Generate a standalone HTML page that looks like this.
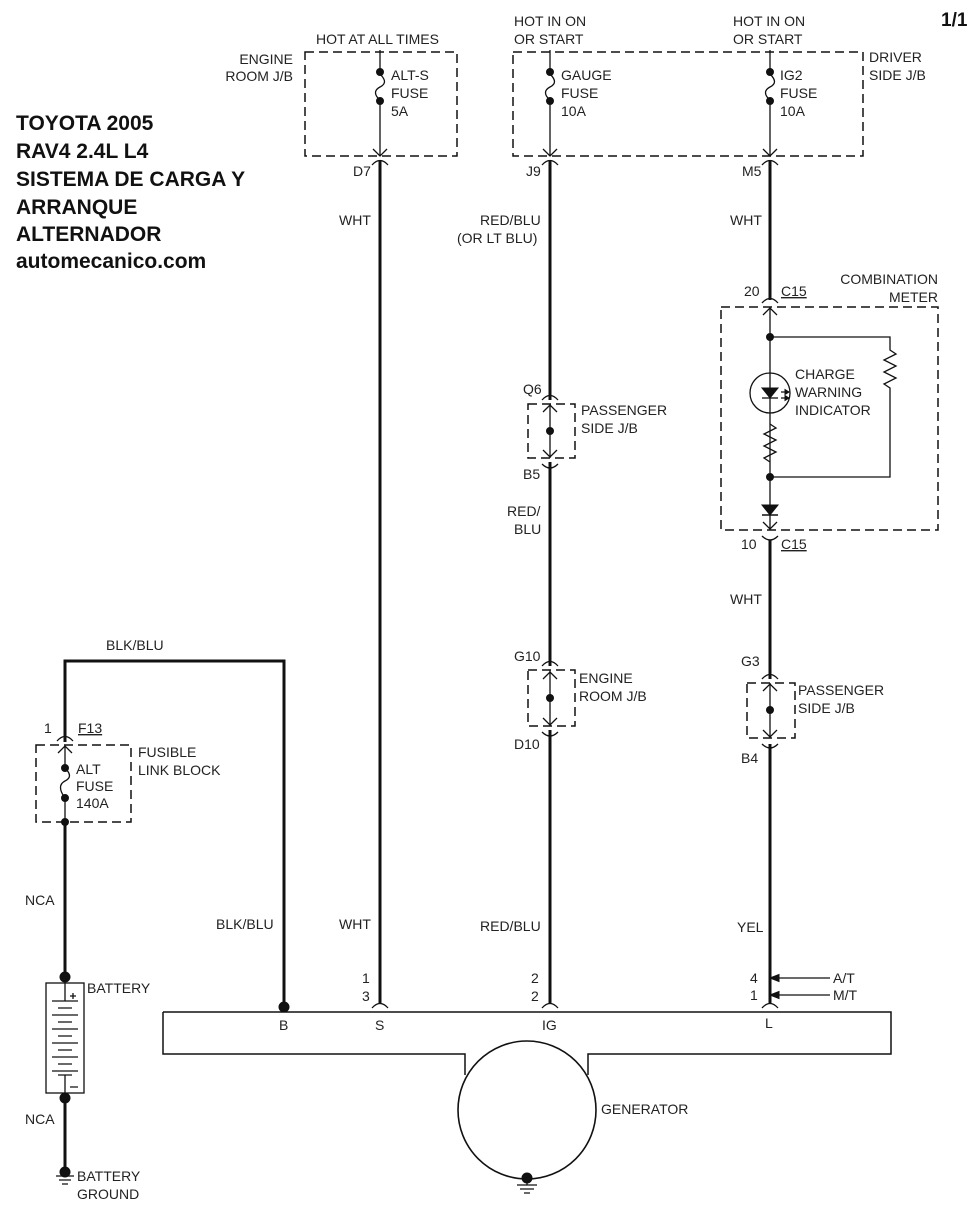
<!DOCTYPE html>
<html><head><meta charset="utf-8"><style>
html,body{margin:0;padding:0;background:#fff;}
svg{display:block;}
svg text{font-family:"Liberation Sans",Arial,sans-serif;font-size:14px;font-weight:normal;fill:#222;stroke:none;}
svg text.t{font-weight:bold;font-size:21px;fill:#111;}
</style></head><body>
<svg width="974" height="1208" viewBox="0 0 974 1208" xmlns="http://www.w3.org/2000/svg">
<g fill="none" stroke="#111">
<g stroke-width="1.5" stroke-dasharray="9,5">
<rect x="305" y="52" width="152" height="104"/>
<rect x="513" y="52" width="350" height="104"/>
<rect x="528" y="404" width="47" height="54"/>
<rect x="528" y="670" width="47" height="56"/>
<rect x="747" y="683" width="48" height="55"/>
<rect x="721" y="307" width="217" height="223"/>
<rect x="36" y="745" width="95" height="77"/>
</g>
<g stroke-width="1.3">
<path d="M380 50V72 M380 100V156"/>
<path d="M550 50V72 M550 100V156"/>
<path d="M770 50V72 M770 100V156"/>
<path d="M380 74 C386 80,386 84,380 87 C374 90,374 95,380 100"/>
<path d="M550 74 C556 80,556 84,550 87 C544 90,544 95,550 100"/>
<path d="M770 74 C776 80,776 84,770 87 C764 90,764 95,770 100"/>
<path d="M65 768 C71 774,71 778,65 781 C59 784,59 790,65 798"/>
<path d="M373 149L380 156L387 149 M543 149L550 156L557 149 M763 149L770 156L777 149"/>
<path d="M372 165Q380 156 388 165 M542 165Q550 156 558 165 M762 165Q770 156 778 165"/>
<path d="M550 404V458 M550 670V726 M770 683V738 M770 307V530"/>
<path d="M543 412L550 405L557 412 M543 450L550 457L557 450"/>
<path d="M542 400Q550 391 558 400 M542 464Q550 472 558 464"/>
<path d="M543 679L550 672L557 679 M543 718L550 725L557 718"/>
<path d="M542 666Q550 657 558 666 M542 732Q550 740 558 732"/>
<path d="M763 691L770 684L777 691 M763 730L770 737L777 730"/>
<path d="M762 679Q770 670 778 679 M762 744Q770 752 778 744"/>
<path d="M763 315L770 308L777 315 M763 522L770 529L777 522"/>
<path d="M762 303Q770 294 778 303 M762 536Q770 544 778 536"/>
<path d="M58 753L65 746L72 753 M57 741Q65 732 73 741 M65 746V768 M65 798V822"/>
<path d="M770 337H890V350 L896 354 L884 360 L896 366 L884 372 L896 378 L884 384 L890 388 V477H770"/>
<path d="M770 424 L776 428 L764 434 L776 440 L764 446 L776 452 L764 458 L770 462"/>
<circle cx="770" cy="393" r="20"/>
<path d="M762 398H778"/>
<path d="M781 392H789 M781 398H789"/>
<path d="M163 1012H891V1054H588V1075 M465 1075V1054H163V1012" stroke-width="1.5"/>
<circle cx="527" cy="1110" r="69" stroke-width="1.6"/>
<path d="M517 1185H537 M520 1189H534 M524 1193H530 M527 1178V1185"/>
<path d="M56 1176H74 M59 1180H71 M62 1184H68"/>
<path d="M372 1008Q380 999 388 1008 M542 1008Q550 999 558 1008 M762 1008Q770 999 778 1008"/>
<rect x="46" y="983" width="38" height="110" stroke-width="1.3"/>
<path d="M65 983V1001 M65 1075V1093" stroke-width="1.3"/>
<path d="M52 1001H78 M58 1008H72 M52 1015H78 M58 1022H72 M52 1029H78 M58 1036H72 M52 1043H78 M58 1050H72 M52 1057H78 M58 1064H72 M52 1071H78 M58 1075H72" stroke-width="1.3"/>
<path d="M70 996H76 M73 993V999 M70 1087H78"/>
<path d="M830 978H776 M830 995H776"/>
</g>
<g fill="none" stroke="#111" stroke-width="3">
<path d="M380 160V1003"/>
<path d="M550 160V400 M550 462V666 M550 730V1003"/>
<path d="M770 160V300 M770 540V679 M770 744V1003"/>
<path d="M65 742V661H284V1007"/>
<path d="M65 822V977 M65 1098V1172"/>
</g>
<g fill="#111">
<circle cx="380" cy="72" r="3.5"/><circle cx="380" cy="101" r="3.5"/>
<circle cx="550" cy="72" r="3.5"/><circle cx="550" cy="101" r="3.5"/>
<circle cx="770" cy="72" r="3.5"/><circle cx="770" cy="101" r="3.5"/>
<circle cx="65" cy="768" r="3.5"/><circle cx="65" cy="798" r="3.5"/><circle cx="65" cy="822" r="3.5"/>
<circle cx="550" cy="431" r="3.5"/><circle cx="550" cy="698" r="3.5"/><circle cx="770" cy="710" r="3.5"/>
<circle cx="770" cy="337" r="3.5"/><circle cx="770" cy="477" r="3.5"/>
<circle cx="65" cy="977" r="5"/><circle cx="65" cy="1098" r="5"/><circle cx="65" cy="1172" r="5"/>
<circle cx="284" cy="1007" r="5"/><circle cx="527" cy="1178" r="5"/>
<path d="M762 388H778L770 398Z"/>
<path d="M762 505H778L770 515Z"/>
<path d="M789 392l-4-2.5v5Z M789 398l-4-2.5v5Z"/>
<path d="M770 978l9-3.5v7Z M770 995l9-3.5v7Z"/>
</g>
<path d="M762 515H778" stroke="#111" stroke-width="1.5"/>
<text x="16" y="130" class="t">TOYOTA 2005</text>
<text x="16" y="158" class="t">RAV4 2.4L L4</text>
<text x="16" y="186" class="t">SISTEMA DE CARGA Y</text>
<text x="16" y="214" class="t">ARRANQUE</text>
<text x="16" y="241" class="t">ALTERNADOR</text>
<text x="16" y="268" class="t">automecanico.com</text>
<text x="941" y="26" class="t" style="font-size:19px">1/1</text>
<text x="316" y="44">HOT AT ALL TIMES</text>
<text x="514" y="26">HOT IN ON</text><text x="514" y="44">OR START</text>
<text x="733" y="26">HOT IN ON</text><text x="733" y="44">OR START</text>
<text x="293" y="64" text-anchor="end">ENGINE</text><text x="293" y="81" text-anchor="end">ROOM J/B</text>
<text x="869" y="62">DRIVER</text><text x="869" y="80">SIDE J/B</text>
<text x="391" y="80">ALT-S</text><text x="391" y="98">FUSE</text><text x="391" y="116">5A</text>
<text x="561" y="80">GAUGE</text><text x="561" y="98">FUSE</text><text x="561" y="116">10A</text>
<text x="780" y="80">IG2</text><text x="780" y="98">FUSE</text><text x="780" y="116">10A</text>
<text x="353" y="176">D7</text><text x="526" y="176">J9</text><text x="742" y="176">M5</text>
<text x="339" y="225">WHT</text>
<text x="480" y="225">RED/BLU</text><text x="457" y="243">(OR LT BLU)</text>
<text x="730" y="225">WHT</text>
<text x="938" y="284" text-anchor="end">COMBINATION</text><text x="938" y="302" text-anchor="end">METER</text>
<text x="744" y="296">20</text><text x="781" y="296" text-decoration="underline">C15</text>
<text x="741" y="549">10</text><text x="781" y="549" text-decoration="underline">C15</text>
<text x="795" y="379">CHARGE</text><text x="795" y="397">WARNING</text><text x="795" y="415">INDICATOR</text>
<text x="523" y="394">Q6</text><text x="523" y="479">B5</text>
<text x="581" y="415">PASSENGER</text><text x="581" y="433">SIDE J/B</text>
<text x="507" y="516">RED/</text><text x="514" y="534">BLU</text>
<text x="730" y="604">WHT</text>
<text x="514" y="661">G10</text><text x="514" y="749">D10</text>
<text x="579" y="683">ENGINE</text><text x="579" y="701">ROOM J/B</text>
<text x="741" y="666">G3</text><text x="741" y="763">B4</text>
<text x="798" y="695">PASSENGER</text><text x="798" y="713">SIDE J/B</text>
<text x="106" y="650">BLK/BLU</text>
<text x="44" y="733">1</text><text x="78" y="733" text-decoration="underline">F13</text>
<text x="138" y="757">FUSIBLE</text><text x="138" y="775">LINK BLOCK</text>
<text x="76" y="774">ALT</text><text x="76" y="791">FUSE</text><text x="76" y="808">140A</text>
<text x="25" y="905">NCA</text><text x="25" y="1124">NCA</text>
<text x="87" y="993">BATTERY</text>
<text x="77" y="1181">BATTERY</text><text x="77" y="1199">GROUND</text>
<text x="216" y="929">BLK/BLU</text>
<text x="339" y="929">WHT</text>
<text x="480" y="931">RED/BLU</text>
<text x="737" y="932">YEL</text>
<text x="362" y="983">1</text><text x="362" y="1001">3</text>
<text x="531" y="983">2</text><text x="531" y="1001">2</text>
<text x="750" y="983">4</text><text x="750" y="1000">1</text>
<text x="833" y="983">A/T</text><text x="833" y="1000">M/T</text>
<text x="279" y="1030">B</text><text x="375" y="1030">S</text>
<text x="542" y="1030">IG</text><text x="765" y="1028">L</text>
<text x="601" y="1114">GENERATOR</text>
</svg>
</body></html>
